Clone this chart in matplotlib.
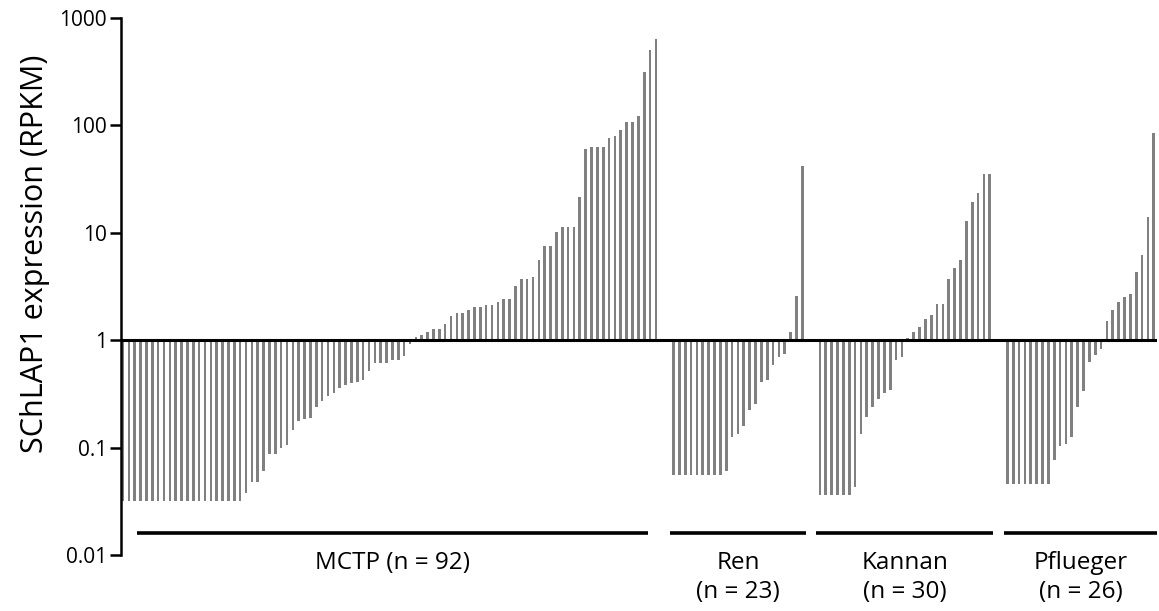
import numpy as np
import matplotlib
matplotlib.use('Agg')
import matplotlib.pyplot as plt
import matplotlib.transforms as mtransforms

plt.rcParams['font.family'] = ['Open Sans', 'DejaVu Sans']

# SChLAP1 expression (RPKM) per sample, sorted within each cohort
mctp = [0.032] * 21 + [
    0.038, 0.048, 0.048, 0.061, 0.088, 0.088, 0.10, 0.105,
    0.147, 0.177, 0.186, 0.187, 0.239, 0.27, 0.303, 0.323, 0.362, 0.386,
    0.40, 0.41, 0.43, 0.514, 0.615, 0.615, 0.615, 0.65, 0.66, 0.71, 0.93,
    1.06, 1.11, 1.18, 1.26, 1.26, 1.41, 1.69, 1.80, 1.80, 1.90, 2.02, 2.02,
    2.13, 2.13, 2.27, 2.43, 2.43, 3.23, 3.68, 3.68, 3.89, 5.56, 7.52, 7.52,
    10.1, 11.3, 11.3, 11.3, 21.7, 59.8, 63.3, 63.3, 63.3, 76.3, 80.2, 90.6,
    108, 108, 122, 317, 504, 643]
ren = [0.055] * 9 + [
    0.061, 0.126, 0.133, 0.158, 0.226, 0.253, 0.409, 0.43, 0.585, 0.70,
    0.75, 1.19, 2.59, 41.9]
kannan = [0.036] * 6 + [
    0.043, 0.133, 0.193, 0.239, 0.286, 0.323, 0.345, 0.66, 0.70,
    1.05, 1.19, 1.33, 1.59, 1.71, 2.15, 2.15, 3.68, 4.66, 5.6, 12.8,
    19.5, 23.3, 35.3, 35.3]
pflueger = [0.0455] * 8 + [
    0.077, 0.104, 0.109, 0.126, 0.24, 0.34, 0.62, 0.73, 0.82,
    1.51, 1.93, 2.29, 2.53, 2.69, 4.3, 6.2, 14.0, 84.7]

groups = [mctp, ren, kannan, pflueger]
group_labels = ['MCTP (n = 92)', 'Ren\n(n = 23)', 'Kannan\n(n = 30)', 'Pflueger\n(n = 26)']
yticks = [0.01, 0.1, 1, 10, 100, 1000]
ytick_labels = ['0.01', '0.1', '1', '10', '100', '1000']

gap = 3
fig = plt.figure(figsize=(11.59, 6.11), dpi=100)
ax = fig.add_axes([121 / 1159, 56 / 611, 1036 / 1159, 537 / 611])

trans = mtransforms.blended_transform_factory(ax.transData, ax.transAxes)
start = 0
for vals, lab in zip(groups, group_labels):
    vals = np.array(vals)
    x = start + np.arange(len(vals))
    ax.bar(x, vals - 1, bottom=1, width=0.45, color='#808080', linewidth=0)
    end = x[-1]
    if start == 0:
        x0, x1 = start + 2.4, end - 1.4
    else:
        x0, x1 = start - 0.6, end + 0.6
    ax.plot([x0, x1], [0.041, 0.041], color='black', lw=2.6,
            transform=trans, clip_on=False, solid_capstyle='butt')
    ax.text((x0 + x1) / 2, 0.008, lab, transform=trans, ha='center', va='top',
            fontsize=17.5, linespacing=1.3)
    start = end + gap

ax.axhline(1, color='black', lw=2.2, xmin=0, xmax=1)
ax.set_yscale('log')
ax.set_ylim(0.01, 1000)
ax.set_xlim(-0.34, 176.55)
ax.set_yticks(yticks)
ax.set_yticklabels(ytick_labels)
ax.minorticks_off()
ax.tick_params(axis='y', which='major', length=8, width=1.8, labelsize=15, pad=2)
ax.set_xticks([])
for s in ['top', 'right', 'bottom']:
    ax.spines[s].set_visible(False)
ax.spines['left'].set_linewidth(1.8)
ax.set_ylabel('SChLAP1 expression (RPKM)', fontsize=22)
ax.yaxis.set_label_coords(-0.069, 0.56)

fig.savefig('out.png', dpi=100)
